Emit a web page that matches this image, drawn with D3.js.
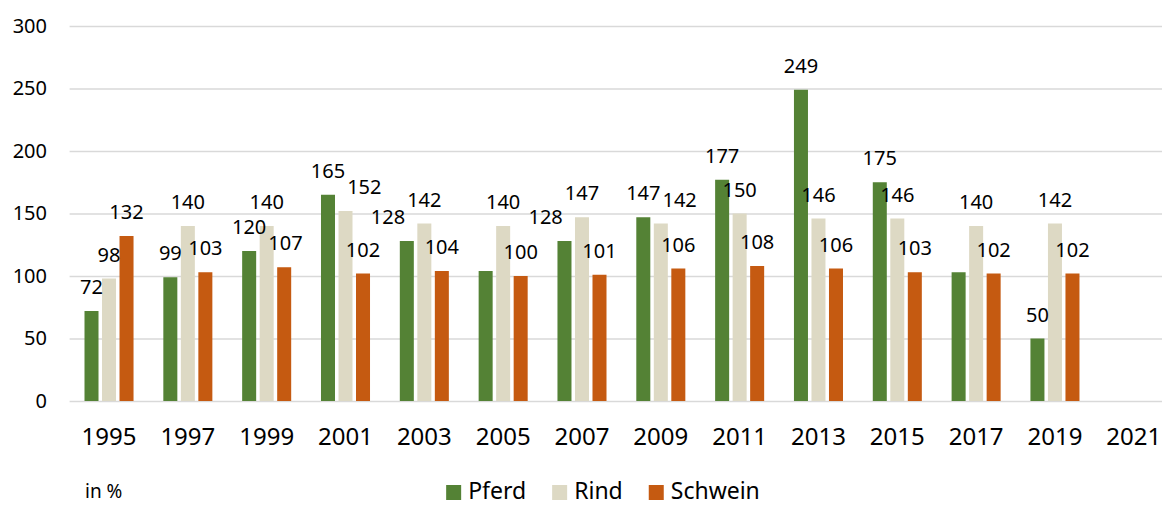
<!DOCTYPE html>
<html>
<head>
<meta charset="utf-8">
<script src="https://cdn.jsdelivr.net/npm/d3@7"></script>
<style>
  body { margin: 0; background: #fff; }
  svg { display: block; }
  text { font-family: "Noto Sans", sans-serif; fill: #000; }
</style>
</head>
<body>
<svg class="chart"></svg>
<script>
// data
const years = ["1995","1997","1999","2001","2003","2005","2007","2009","2011","2013","2015","2017","2019","2021"];
const series = ["Pferd","Rind","Schwein"];
const pferd   = [72, 99, 120, 165, 128, 104, 128, 147, 177, 249, 175, 103, 50, null];
const rind    = [98, 140, 140, 152, 142, 140, 147, 142, 150, 146, 146, 140, 142, null];
const schwein = [132, 103, 107, 102, 104, 100, 101, 106, 108, 106, 103, 102, 102, null];
const yTicks = [0, 50, 100, 150, 200, 250, 300];
// labels that the original leaves out
const unlabelled = ["2005 Pferd", "2017 Pferd"];
const colors = ["#548235", "#ddd9c4", "#c55a11"];

const values = {Pferd: pferd, Rind: rind, Schwein: schwein};
const rows = years.map((yr, i) => ({year: yr, vals: series.map(s => ({key: s, value: values[s][i]}))}));

let width = 1162, height = 505;
let svg = d3.select(".chart").attr("width", width).attr("height", height);

let x0 = d3.scaleBand().domain(years).range([69.6, 1173.2])
      .paddingInner(0.378).paddingOuter(0.189),
    x1 = d3.scaleBand().domain(series).range([0, x0.bandwidth()]).paddingInner(0.2),
    y = d3.scaleLinear().domain([0, 300]).range([401, 26]),
    color = d3.scaleOrdinal().domain(series).range(colors);

// gridlines
svg.append("g")
   .attr("transform", "translate(69.6,0)")
   .call(d3.axisRight(y).tickValues(yTicks).tickSize(width))
   .call(g => {
     g.select(".domain").remove();
     g.selectAll(".tick text").remove();
     g.selectAll(".tick line").attr("stroke", "#d9d9d9").attr("stroke-width", 1.6);
   });

// y labels
svg.append("g")
   .attr("transform", "translate(47,0)")
   .call(d3.axisLeft(y).tickValues(yTicks).tickSize(0).tickPadding(0))
   .call(g => {
     g.select(".domain").remove();
     g.selectAll(".tick text").attr("font-size", 20).attr("font-family", null).attr("fill", "#000");
   });

// x labels
svg.append("g")
   .attr("transform", "translate(0,401)")
   .call(d3.axisBottom(x0).tickSize(0))
   .call(g => {
     g.select(".domain").remove();
     g.selectAll(".tick text").attr("font-size", 24).attr("font-family", null)
      .attr("fill", "#000").attr("y", 44).attr("dy", 0);
   });

// bars
let groups = svg.append("g").selectAll("g")
  .data(rows).enter().append("g")
  .attr("transform", d => "translate(" + x0(d.year) + ",0)");

groups.selectAll("rect")
  .data(d => d.vals.filter(v => v.value != null))
  .enter().append("rect")
  .attr("x", d => x1(d.key))
  .attr("y", d => y(d.value))
  .attr("width", x1.bandwidth())
  .attr("height", d => y(0) - y(d.value))
  .attr("fill", d => color(d.key));

// value labels above each bar; when two collide the lower one steps aside
let labelData = [];
rows.forEach(r => r.vals.forEach(v => {
  if (v.value == null || unlabelled.includes(r.year + " " + v.key)) return;
  labelData.push({year: r.year, key: v.key, value: v.value,
    cx: x0(r.year) + x1(v.key) + x1.bandwidth() / 2,
    cy: y(v.value) - 24});
}));

let labels = svg.append("g").selectAll("text")
  .data(labelData).enter().append("text")
  .attr("font-size", 20)
  .attr("text-anchor", "middle")
  .text(d => d.value);

labels.each(function(d) { d.w = this.getComputedTextLength() + 2; d.h = 24; });
for (let pass = 0; pass < 2; pass++) {
  labelData.forEach((d, i) => {
    for (let j = 0; j < i; j++) {
      let o = labelData[j];
      if (Math.abs(o.cy - d.cy) >= (o.h + d.h) / 2) continue;
      let need = (o.w + d.w) / 2 - Math.abs(d.cx - o.cx);
      if (need <= 0) continue;
      if (d.cy > o.cy) d.cx += (d.cx >= o.cx ? need : -need);
      else o.cx += (o.cx >= d.cx ? need : -need);
    }
  });
}
labels.attr("x", d => d.cx).attr("y", d => d.cy + 7);

// unit note
svg.append("text").attr("x", 85).attr("y", 498).attr("font-size", 19).text("in %");

// legend
let legend = svg.append("g");
let lx = 0;
series.forEach(s => {
  let item = legend.append("g").attr("transform", "translate(" + lx + ",0)");
  item.append("rect").attr("x", 0).attr("y", 485).attr("width", 15).attr("height", 15).attr("fill", color(s));
  let t = item.append("text").attr("x", 22).attr("y", 499).attr("font-size", 23).text(s);
  lx += 22 + t.node().getComputedTextLength() + 26;
});
let legendW = lx - 26;
legend.attr("transform", "translate(" + (603 - legendW / 2) + ",0)");
</script>
</body>
</html>
